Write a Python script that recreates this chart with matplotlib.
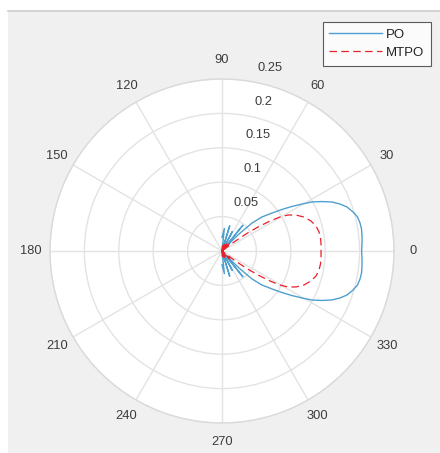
import numpy as np
import matplotlib
matplotlib.use('Agg')
import matplotlib.pyplot as plt
from matplotlib.patches import Rectangle
from matplotlib.lines import Line2D

# angles in degrees, radii
po_deg = [-90, -84, -78, -73, -67, -62, -56, -51, -47, -46, -45, -43.0, -40.4, -37.2, -34.7,
          -32.5, -30.4, -28.6, -26.3, -24.0, -21.7, -19.4, -16.6, -14.1, -11.5, -9.0, -6.1,
          -3.3, 0, 3.3, 6.1, 9.0, 11.5, 14.1, 16.6, 19.4, 21.7, 24.0, 26.3, 28.6, 30.4, 32.5,
          34.7, 37.2, 40.4, 43.0, 45, 46, 47, 51, 56, 62, 67, 73, 78, 84, 90]
po_r = [0.02, 0.033, 0.0, 0.038, 0.0, 0.032, 0.0, 0.048, 0.0, 0.015, 0.035, 0.0596, 0.0763,
        0.0913, 0.1061, 0.1205, 0.1349, 0.1490, 0.1622, 0.1750, 0.1846, 0.1926, 0.1987, 0.2031,
        0.2047, 0.2053, 0.2047, 0.2038, 0.2030, 0.2038, 0.2047, 0.2053, 0.2047, 0.2031, 0.1987,
        0.1926, 0.1846, 0.1750, 0.1622, 0.1490, 0.1349, 0.1205, 0.1061, 0.0913, 0.0763, 0.0596,
        0.035, 0.015, 0.0, 0.048, 0.0, 0.032, 0.0, 0.038, 0.0, 0.033, 0.02]

mtpo_deg = [-90, -85, -78, -70, -62, -56, -50, -45, -39, -36.9, -35.3, -33.7, -32.0, -30.4,
            -28.6, -25.9, -22.5, -18.6, -14.9, -11.1, -7.5, -4.0, 0, 4.0, 7.5, 11.1, 14.9,
            18.6, 22.5, 25.9, 28.6, 30.4, 32.0, 33.7, 35.3, 36.9, 39, 45, 50, 56, 62, 70, 78,
            85, 90]
mtpo_r = [0.0, 0.008, 0.0, 0.01, 0.0, 0.012, 0.0, 0.016, 0.0, 0.0218, 0.0427, 0.0629, 0.0823,
          0.0977, 0.1093, 0.1196, 0.1290, 0.1365, 0.1414, 0.1437, 0.1444, 0.1443, 0.1439,
          0.1443, 0.1444, 0.1437, 0.1414, 0.1365, 0.1290, 0.1196, 0.1093, 0.0977, 0.0823,
          0.0629, 0.0427, 0.0218, 0.0, 0.016, 0.0, 0.012, 0.0, 0.01, 0.0, 0.008, 0.0]

r_ticks = [0.05, 0.1, 0.15, 0.2, 0.25]
r_labels = ['0.05', '0.1', '0.15', '0.2', '0.25']
theta_ticks = list(range(0, 360, 30))

plt.rcParams['font.family'] = ['Liberation Sans', 'DejaVu Sans']
txt = '#3c3c3c'
gridc = '#e3e3e3'

fig = plt.figure(figsize=(4.4, 4.53), dpi=100, facecolor='white')
fig.patches.append(Rectangle((8/440, 0), 1, (453-11)/453, transform=fig.transFigure,
                             facecolor='#f0f0f0', edgecolor='none', zorder=-5))
fig.lines.append(Line2D([8/440, 1], [(453-11)/453]*2, transform=fig.transFigure,
                        color='#cccccc', lw=1.2))

ax = fig.add_axes([50/440, 30/453, 344/440, 344/453], projection='polar')
ax.set_facecolor('white')
ax.plot(np.deg2rad(po_deg), po_r, color='#4f9fcf', lw=1.0, label='PO')
ax.plot(np.deg2rad(mtpo_deg), mtpo_r, color='#e8202a', lw=0.9, ls=(0, (6, 3.5)), label='MTPO')

ax.set_ylim(0, 0.25)
ax.set_yticks(r_ticks)
ax.set_yticklabels([])
ax.set_thetagrids(theta_ticks, [str(t) for t in theta_ticks])
ax.tick_params(axis='x', colors=txt, labelsize=9.3, pad=3)
ax.grid(True, color=gridc, lw=1.0)
ax.spines['polar'].set_color('#dadada')
ax.spines['polar'].set_linewidth(1.0)

for r, lbl in zip(r_ticks, r_labels):
    ax.annotate(lbl, xy=(np.deg2rad(80), r), xytext=(13, 10), textcoords='offset points',
                ha='center', va='center', fontsize=9.3, color=txt)

leg = ax.legend(loc='upper right', bbox_to_anchor=(431/440, (453-22)/453),
                bbox_transform=fig.transFigure, fontsize=9.5, frameon=True, fancybox=False,
                handlelength=4.0, handletextpad=0.3, borderpad=0.5, labelspacing=0.45,
                borderaxespad=0)
leg.get_frame().set_edgecolor('#333333')
leg.get_frame().set_linewidth(0.8)
for t in leg.get_texts():
    t.set_color('#222222')

fig.savefig('out.png', dpi=100, facecolor=fig.get_facecolor())
